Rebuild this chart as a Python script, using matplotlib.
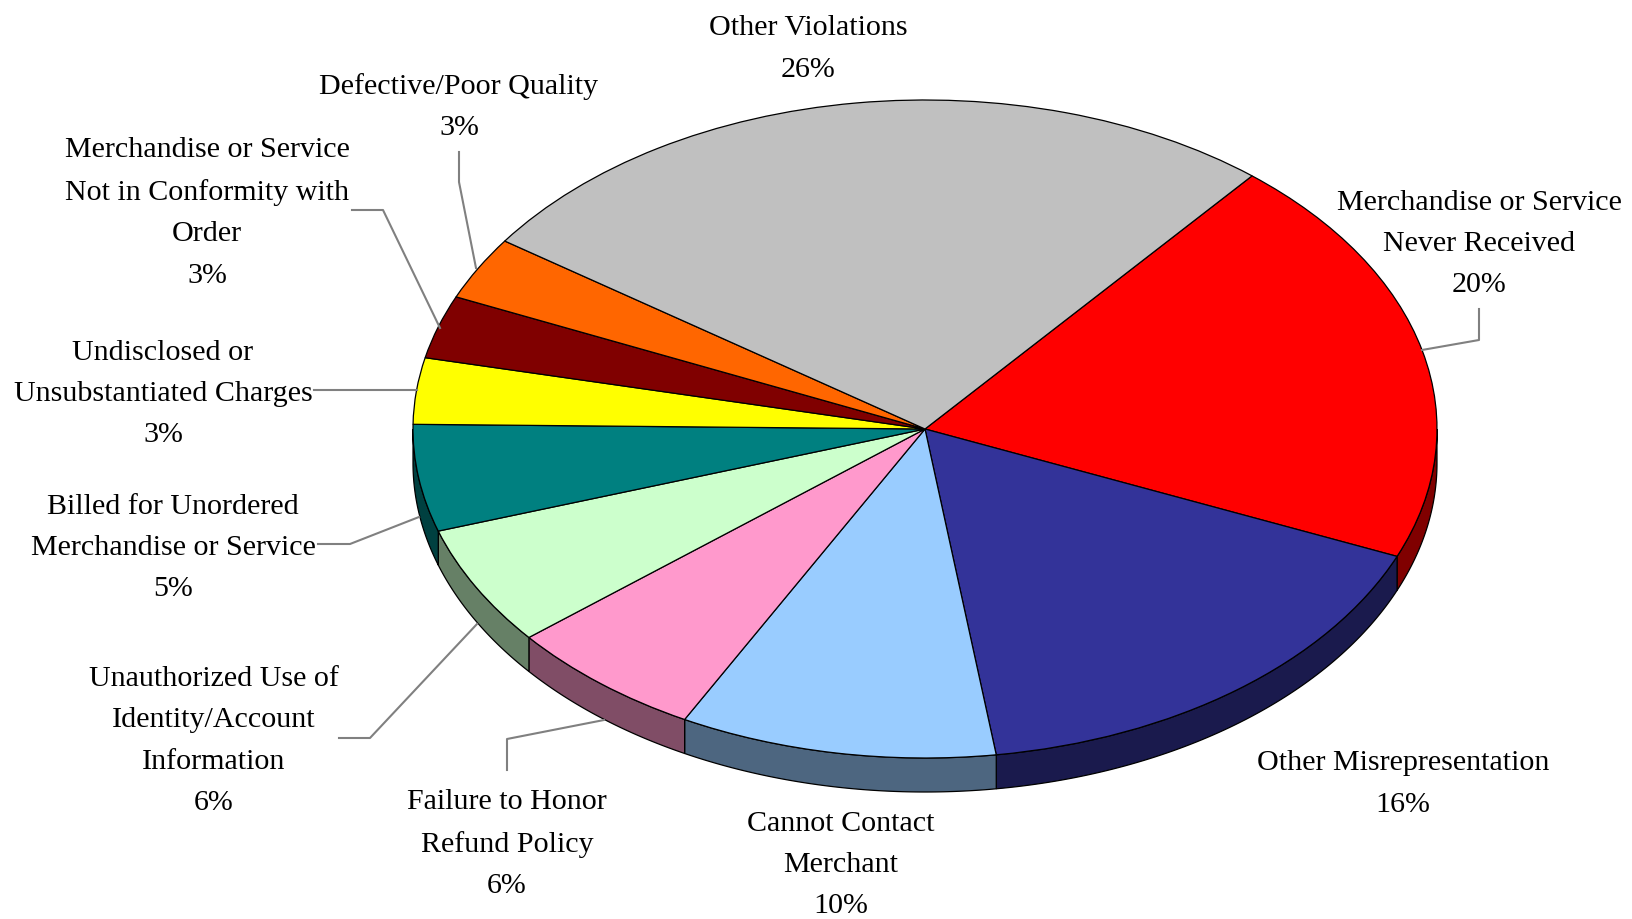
import numpy as np
import matplotlib
matplotlib.use('Agg')
import matplotlib.pyplot as plt

names = ['Merchandise or Service\nNever Received', 'Other Misrepresentation',
         'Cannot Contact\nMerchant', 'Failure to Honor\nRefund Policy',
         'Unauthorized Use of\nIdentity/Account\nInformation',
         'Billed for Unordered\nMerchandise or Service',
         'Undisclosed or\nUnsubstantiated Charges',
         'Merchandise or Service\nNot in Conformity with\nOrder',
         'Defective/Poor Quality', 'Other Violations']
values = [20.3, 16.45, 10.0, 6.3, 5.9, 5.25, 3.25, 3.1, 3.1, 26.35]
colors = ['#FF0000', '#333399', '#99CCFF', '#FF99CC', '#CCFFCC',
          '#008080', '#FFFF00', '#800000', '#FF6600', '#C0C0C0']

# label centres and leader lines, in pixels of the 1633x919 picture
label_pos = [(1479, 244), (1403, 784), (841, 865), (507, 844), (214, 741),
             (173, 548), (163, 394), (207, 213), (459, 107), (808, 49)]
leaders = [[(1479, 309), (1479, 340), (1422, 350)],
           [(507, 770), (507, 739), (604, 720)],
           [(339, 738), (370, 738), (477, 624)],
           [(318, 544), (350, 544), (419, 517)],
           [(314, 390), (345, 390), (417, 390)],
           [(352, 210), (383, 210), (440, 328)],
           [(459, 152), (459, 182), (476, 268)]]

W, H = 1633, 919
cx, cy, rx, ry, depth = 925.0, 429, 512, 329, 34


def to_data(px, py):
    return (px - cx) / rx, (cy - py) / ry


fig = plt.figure(figsize=(W / 100, H / 100), dpi=100)
ax = fig.add_axes([0, 0, 1, 1])

wedges, _ = ax.pie(values, colors=colors, startangle=50.3, counterclock=False,
                   wedgeprops={'edgecolor': 'black', 'linewidth': 0.9, 'zorder': 2})
ax.set_aspect('auto')
ax.set_xlim(to_data(0, 0)[0], to_data(W, 0)[0])
ax.set_ylim(to_data(0, H)[1], to_data(0, 0)[1])

# side wall: front half of each slice, pushed down by the depth
d = depth / ry
for w, col in zip(wedges, colors):
    for shift in (-360, 0, 360):
        a = max(w.theta1 + shift, 180)
        b = min(w.theta2 + shift, 360)
        if b <= a:
            continue
        t = np.radians(np.linspace(a, b, 80))
        x = np.r_[np.cos(t), np.cos(t[::-1])]
        y = np.r_[np.sin(t), np.sin(t[::-1]) - d]
        dark = [c / 2 for c in matplotlib.colors.to_rgb(col)]
        ax.fill(x, y, facecolor=dark, edgecolor='black', linewidth=0.9, zorder=1)

for pts in leaders:
    xy = np.array([to_data(*p) for p in pts])
    ax.plot(xy[:, 0], xy[:, 1], color='#808080', linewidth=1.5, zorder=3)

for name, val, pos in zip(names, values, label_pos):
    x, y = to_data(*pos)
    ax.text(x, y, f'{name}\n{val:.0f}%', ha='center', va='center', ma='center',
            family='Liberation Serif', fontsize=21.6, linespacing=1.755, color='black')

fig.savefig('out.png', dpi=100, facecolor='white')
